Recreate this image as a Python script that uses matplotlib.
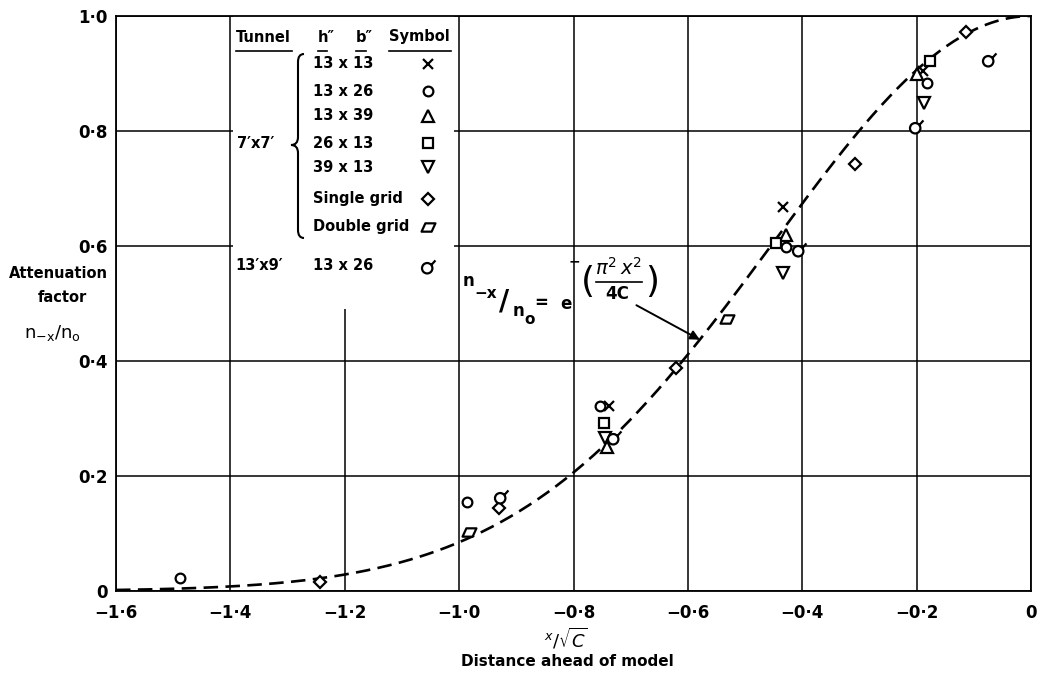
import numpy as np
import matplotlib
matplotlib.use("Agg")
import matplotlib.pyplot as plt
from matplotlib.path import Path
from matplotlib.patches import PathPatch, Rectangle

# data (x / sqrt(C), attenuation factor)
cross_x = [-0.433, -0.188, -0.738]
cross_y = [0.668, 0.905, 0.322]
circle_x = [-1.488, -0.986, -0.754, -0.428, -0.181]
circle_y = [0.023, 0.155, 0.321, 0.598, 0.884]
tri_up_x = [-0.742, -0.428, -0.200]
tri_up_y = [0.250, 0.619, 0.900]
square_x = [-0.747, -0.446, -0.176]
square_y = [0.292, 0.605, 0.922]
tri_down_x = [-0.745, -0.434, -0.187]
tri_down_y = [0.266, 0.553, 0.848]
single_x = [-1.244, -0.930, -0.621, -0.307, -0.114]
single_y = [0.016, 0.144, 0.387, 0.743, 0.973]
double_x = [-0.982, -0.532]
double_y = [0.103, 0.473]
big_tunnel_x = [-0.927, -0.730, -0.405, -0.201, -0.073]
big_tunnel_y = [0.165, 0.268, 0.594, 0.809, 0.926]

x_ticks = [-1.6, -1.4, -1.2, -1.0, -0.8, -0.6, -0.4, -0.2, 0.0]
x_tick_labels = ["\u22121\u00b76", "\u22121\u00b74", "\u22121\u00b72", "\u22121\u00b70",
                 "\u22120\u00b78", "\u22120\u00b76", "\u22120\u00b74", "\u22120\u00b72", "0"]
y_ticks = [0.0, 0.2, 0.4, 0.6, 0.8, 1.0]
y_tick_labels = ["0", "0\u00b72", "0\u00b74", "0\u00b76", "0\u00b78", "1\u00b70"]

legend_sizes = ["13 x 13", "13 x 26", "13 x 39", "26 x 13", "39 x 13",
                "Single grid", "Double grid", "13 x 26"]

# theoretical curve given on the chart: n_-x/n_o = exp(-pi^2 x^2 / 4C)
curve_x = np.linspace(-1.6, 0.0, 400)
curve_y = np.exp(-np.pi ** 2 * curve_x ** 2 / 4.0)

plt.rcParams['font.family'] = ['DejaVu Sans']
plt.rcParams['mathtext.fontset'] = 'dejavusans'

W, H = 1042, 676
fig = plt.figure(figsize=(W / 100, H / 100), dpi=100)
ax = fig.add_axes([116 / W, 85 / H, 915 / W, 575 / H])


def px(x, y):
    # pixel position in the reference -> axes fraction
    return ((x - 116) / 915.0, (591 - y) / 575.0)


# custom markers
para = Path([(-1, -0.6), (0.45, -0.6), (1, 0.6), (-0.45, 0.6), (-1, -0.6)],
            [Path.MOVETO, Path.LINETO, Path.LINETO, Path.LINETO, Path.CLOSEPOLY])
sig = Path.make_compound_path(Path.circle((-0.15, -0.2), 0.6),
                              Path([(0.35, 0.2), (0.8, 0.7)]))

ax.set_xlim(-1.6, 0)
ax.set_ylim(0, 1.0)
ax.set_axisbelow(True)
ax.grid(True, color='black', lw=1.1)
# blank area behind the legend table
ax.add_patch(Rectangle((-1.396, 0.49), 0.387, 0.51, facecolor='white',
                       edgecolor='none', zorder=1.5))

ax.plot(curve_x, curve_y, color='black', lw=1.9, dashes=(5.5, 2.8), zorder=2)

mk = dict(ls='none', color='black', mfc='white', mew=1.6, zorder=3)
ax.plot(cross_x, cross_y, marker='x', ms=7, **mk)
ax.plot(circle_x, circle_y, marker='o', ms=7, **mk)
ax.plot(tri_up_x, tri_up_y, marker='^', ms=8, **mk)
ax.plot(square_x, square_y, marker='s', ms=7, **mk)
ax.plot(tri_down_x, tri_down_y, marker='v', ms=8, **mk)
ax.plot(single_x, single_y, marker='D', ms=6.5, **mk)
ax.plot(double_x, double_y, marker=para, ms=10, **mk)
ax.plot(big_tunnel_x, big_tunnel_y, marker=sig, ms=10, **mk)

for s in ax.spines.values():
    s.set_linewidth(1.3)
ax.set_xticks(x_ticks)
ax.set_xticklabels(x_tick_labels, fontsize=12, fontweight='bold')
ax.set_yticks(y_ticks)
ax.set_yticklabels(y_tick_labels, fontsize=12, fontweight='bold')
ax.tick_params(length=0, pad=6)
ax.tick_params(axis='x', pad=9)

# legend table
tk = dict(transform=ax.transAxes, fontsize=10.5, fontweight='bold', va='center',
          clip_on=False, zorder=4)
ax.text(*px(236, 37), "Tunnel", ha='left', **tk)
ax.text(*px(318, 37), "h\u2033", ha='left', **tk)
ax.text(*px(356, 37), "b\u2033", ha='left', **tk)
ax.text(*px(389, 37), "Symbol", ha='left', **tk)
for x0, x1 in [(236, 292), (318, 327), (356, 366), (389, 451)]:
    ax.plot([px(x0, 0)[0], px(x1, 0)[0]], [px(0, 51)[1]] * 2, color='black',
            lw=1.2, transform=ax.transAxes, clip_on=False, zorder=4)

row_y = [64, 91, 116, 143, 167, 199, 227, 266]
for lab, yy in zip(legend_sizes, row_y):
    ax.text(*px(313, yy), lab, ha='left', **tk)
ax.text(*px(237, 143), "7\u2032x7\u2032", ha='left', **tk)
ax.text(*px(235, 266), "13\u2032x9\u2032", ha='left', **tk)

sym = [('x', 7), ('o', 7), ('^', 8), ('s', 7), ('v', 8), ('D', 6.5), (para, 10), (sig, 10)]
for (m, ms), yy in zip(sym, row_y):
    ax.plot(*px(428, yy), marker=m, ms=ms, color='black', mfc='white', mew=1.6,
            transform=ax.transAxes, clip_on=False, zorder=4)

# curly brace grouping the 7'x7' rows
bp = [(304, 54), (298, 54), (298, 62), (298, 137), (298, 145), (291, 145),
      (298, 145), (298, 153), (298, 230), (298, 238), (304, 238)]
bc = [Path.MOVETO, Path.CURVE3, Path.CURVE3, Path.LINETO, Path.CURVE3, Path.CURVE3,
      Path.CURVE3, Path.CURVE3, Path.LINETO, Path.CURVE3, Path.CURVE3]
ax.add_patch(PathPatch(Path([px(a, b) for a, b in bp], bc), facecolor='none',
                       edgecolor='black', lw=1.5, transform=ax.transAxes,
                       clip_on=False, zorder=4))

# formula and arrow
fk = dict(transform=ax.transAxes, fontweight='bold', ha='center', va='center', zorder=4)
ax.text(*px(468, 281), "n", fontsize=12, **fk)
ax.text(*px(486, 294), "\u2212x", fontsize=11, **fk)
ax.text(*px(504, 302), "/", fontsize=20, **fk)
ax.text(*px(519, 311), "n", fontsize=12, **fk)
ax.text(*px(530, 319), "o", fontsize=11, **fk)
ax.text(*px(541, 303), "=", fontsize=12, **fk)
ax.text(*px(566, 304), "e", fontsize=12, **fk)
ax.text(*px(574, 261), "\u2212", fontsize=10, **fk)
ax.text(*px(588, 282), "(", fontsize=26, transform=ax.transAxes, ha='center',
        va='center')
ax.text(*px(652, 282), ")", fontsize=26, transform=ax.transAxes, ha='center',
        va='center')
ax.text(*px(618, 268), r"$\pi^2\,x^2$", fontsize=14, transform=ax.transAxes,
        ha='center', va='center')
ax.plot([px(596, 0)[0], px(642, 0)[0]], [px(0, 282)[1]] * 2, color='black',
        lw=1.2, transform=ax.transAxes)
ax.text(*px(617, 294), "4C", fontsize=12, **fk)
ax.annotate("", xy=(-0.579, 0.437), xytext=(-0.690, 0.497),
            arrowprops=dict(arrowstyle='-|>', color='black', lw=1.4,
                            mutation_scale=14, shrinkA=0, shrinkB=0))

# axis labels
lk = dict(transform=ax.transAxes, ha='center', va='center', clip_on=False,
          fontweight='bold')
ax.text(*px(58, 273), "Attenuation", fontsize=10.5, **lk)
ax.text(*px(62, 297), "factor", fontsize=10.5, **lk)
ax.text(*px(52, 333), r"$\mathregular{n_{-x}/n_o}$", fontsize=13,
        transform=ax.transAxes, ha='center', va='center', clip_on=False)
ax.text(*px(566, 639), r"$^{x}/\sqrt{C}$", fontsize=13,
        transform=ax.transAxes, ha='center', va='center', clip_on=False)
ax.text(*px(567, 661), "Distance ahead of model", fontsize=11, **lk)

fig.savefig("out.png", dpi=100)
